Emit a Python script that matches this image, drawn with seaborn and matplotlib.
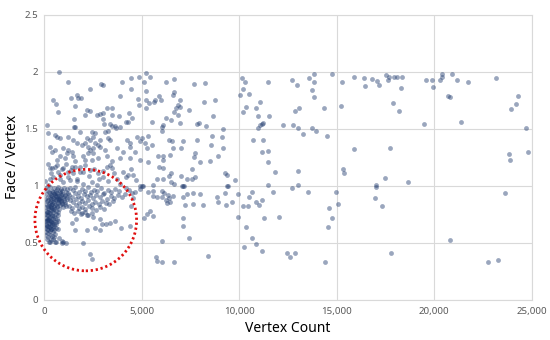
"""
Face / Vertex ratio against vertex count, scatter with highlighted cluster.
"""

import numpy as np
import pandas as pd
import seaborn as sns
from matplotlib import pyplot as plt
from matplotlib.patches import Ellipse
from matplotlib.ticker import FuncFormatter, MultipleLocator

# --- data (vertex count, face / vertex) ---

# above 1.5, left of 5,000
upper_left = [
    (770, 2.0), (1245, 1.91), (2920, 1.89), (3000, 1.885), (2360, 1.85), (3980, 1.915),
    (4460, 1.95), (4870, 1.96), (4460, 1.85), (1670, 1.80), (1380, 1.77), (1760, 1.775),
    (1900, 1.77), (480, 1.75), (615, 1.72), (3890, 1.79), (4800, 1.76), (4870, 1.71),
    (1590, 1.70), (735, 1.65), (2190, 1.67), (2360, 1.66), (3210, 1.68), (3470, 1.68),
    (2100, 1.62), (2700, 1.62), (2870, 1.63), (3040, 1.64), (3470, 1.62), (3860, 1.615),
    (4370, 1.64), (1540, 1.59), (3040, 1.59), (4490, 1.60), (4200, 1.56), (4320, 1.565),
    (3090, 1.54), (3380, 1.545), (3640, 1.53), (3890, 1.52), (140, 1.535), (1550, 1.52),
]

# 1.0 - 1.5, left of 5,000
mid_left = [
    (1590, 1.52), (3470, 1.525), (3690, 1.505), (2440, 1.475), (2610, 1.46), (3120, 1.475),
    (3300, 1.48), (1840, 1.475), (220, 1.46), (560, 1.45), (650, 1.43), (820, 1.42),
    (1245, 1.43), (2190, 1.42), (2360, 1.40), (2530, 1.425), (2100, 1.375), (1500, 1.40),
    (1670, 1.375), (1930, 1.36), (2610, 1.375), (2780, 1.36), (2870, 1.40), (3300, 1.42),
    (3380, 1.40), (4240, 1.40), (4410, 1.375), (4750, 1.43), (4920, 1.39), (5000, 1.42),
    (310, 1.345), (560, 1.315), (390, 1.30), (990, 1.33), (1245, 1.315), (1160, 1.285),
    (1420, 1.30), (2270, 1.345), (2360, 1.315), (2530, 1.33), (2270, 1.285), (2530, 1.285),
    (2870, 1.345), (3120, 1.315), (3720, 1.33), (4060, 1.30), (4410, 1.345), (4660, 1.30),
    (820, 1.26), (1080, 1.245), (650, 1.23), (1500, 1.26), (1590, 1.215), (2010, 1.26),
    (2100, 1.23), (2440, 1.23), (2780, 1.245), (3210, 1.26), (3470, 1.215), (3890, 1.245),
    (4410, 1.245), (4920, 1.23), (310, 1.155), (560, 1.17), (735, 1.125), (990, 1.155),
    (1245, 1.125), (1420, 1.17), (1840, 1.17), (2010, 1.125), (2360, 1.14), (3210, 1.17),
    (3380, 1.185), (3470, 1.155), (4060, 1.125), (4320, 1.095), (4580, 1.095), (2780, 1.11),
    (3040, 1.08), (3720, 1.065), (480, 1.08), (820, 1.065), (1330, 1.05), (1670, 1.065),
    (50, 1.04), (220, 1.01), (180, 1.19), (420, 1.16), (650, 1.18), (900, 1.15),
    (1150, 1.19), (1380, 1.14), (1600, 1.17), (1850, 1.12), (2100, 1.18), (2300, 1.09),
    (2550, 1.15), (2800, 1.06), (3000, 1.13), (350, 1.11), (800, 1.10), (1250, 1.08),
    (1700, 1.04), (2000, 1.02), (2450, 1.03), (2700, 1.01), (300, 1.06), (950, 1.03),
    (1500, 1.11), (3300, 1.04), (3600, 1.11), (3900, 1.02), (4200, 1.08), (4450, 1.15),
    (4700, 1.05),
]

# dense block just under 1.0
dense_top = [
    (75, 0.985), (160, 0.962), (245, 0.948), (318, 0.991), (402, 0.957), (488, 0.978),
    (553, 0.941), (641, 0.969), (712, 0.992), (795, 0.953), (868, 0.976), (944, 0.958),
    (1027, 0.983), (1105, 0.947), (1192, 0.971), (118, 0.928), (207, 0.905), (283, 0.936),
    (366, 0.917), (437, 0.893), (529, 0.925), (602, 0.908), (677, 0.939), (754, 0.914),
    (839, 0.897), (918, 0.931), (1006, 0.909), (1076, 0.922), (1163, 0.901), (1238, 0.934),
    (62, 0.884), (144, 0.866), (226, 0.879), (297, 0.855), (383, 0.887), (462, 0.862),
    (537, 0.848), (619, 0.874), (703, 0.859), (782, 0.882), (857, 0.868), (936, 0.851),
    (1019, 0.877), (1097, 0.857), (1178, 0.885), (104, 0.838), (186, 0.826), (262, 0.845),
    (344, 0.829), (421, 0.841), (503, 0.818), (584, 0.836), (662, 0.823), (741, 0.847),
    (823, 0.831), (905, 0.842), (981, 0.819), (1058, 0.838), (1143, 0.826), (563, 0.918),
    (636, 0.883), (724, 0.897), (812, 0.936), (893, 0.879), (455, 0.946), (372, 0.871),
    (992, 0.894), (607, 0.958), (768, 0.872), (505, 0.889), (684, 0.914), (858, 0.921),
    (425, 0.915), (330, 0.905),
]

# dense column near the y axis, 0.5 - 0.83
dense_low = [
    (70, 0.815), (180, 0.802), (290, 0.821), (410, 0.808), (530, 0.796), (650, 0.812),
    (760, 0.799), (110, 0.782), (230, 0.774), (350, 0.789), (470, 0.768), (590, 0.781),
    (700, 0.772), (60, 0.755), (170, 0.741), (280, 0.760), (390, 0.748), (510, 0.737),
    (620, 0.752), (740, 0.744), (100, 0.722), (210, 0.714), (320, 0.729), (440, 0.709),
    (560, 0.721), (670, 0.712), (55, 0.694), (150, 0.688), (260, 0.701), (370, 0.683),
    (480, 0.696), (590, 0.679), (720, 0.690), (95, 0.665), (200, 0.652), (310, 0.668),
    (420, 0.657), (530, 0.645), (640, 0.662), (60, 0.632), (165, 0.621), (270, 0.638),
    (380, 0.626), (490, 0.614), (600, 0.630), (710, 0.619), (110, 0.597), (220, 0.588),
    (330, 0.603), (440, 0.592), (560, 0.581), (70, 0.568), (180, 0.556), (290, 0.572),
    (400, 0.561), (520, 0.549), (190, 0.705), (340, 0.692), (250, 0.675), (410, 0.672),
    (170, 0.648), (300, 0.641), (460, 0.628), (230, 0.612), (360, 0.618), (520, 0.665),
    (140, 0.702), (280, 0.718), (400, 0.735), (220, 0.742), (330, 0.758), (150, 0.772),
    (440, 0.785), (250, 0.798), (350, 0.812), (120, 0.655), (130, 0.535), (380, 0.522),
    (620, 0.508), (900, 0.515), (1150, 0.498), (280, 0.505), (750, 0.545), (480, 0.530),
    (310, 0.51), (560, 0.505), (905, 0.50), (990, 0.51),
]

# looser band 1,250 - 4,700 under 1.0
band = [
    (1320, 0.985), (1480, 0.962), (1610, 0.991), (1770, 0.948), (1930, 0.975), (2080, 0.957),
    (2240, 0.989), (2390, 0.944), (2560, 0.968), (2730, 0.952), (2910, 0.981), (3080, 0.939),
    (3260, 0.966), (3450, 0.948), (3640, 0.972), (3850, 0.955), (1290, 0.924), (1440, 0.905),
    (1570, 0.937), (1720, 0.913), (1880, 0.896), (2030, 0.928), (2190, 0.909), (2350, 0.921),
    (2520, 0.892), (2690, 0.917), (2870, 0.903), (3040, 0.929), (3230, 0.887), (3420, 0.911),
    (3600, 0.896), (3810, 0.921), (4010, 0.905), (1350, 0.872), (1500, 0.858), (1650, 0.881),
    (1800, 0.849), (1960, 0.867), (2120, 0.853), (2280, 0.876), (2450, 0.845), (2620, 0.862),
    (2800, 0.838), (2980, 0.871), (3160, 0.851), (3350, 0.842), (3560, 0.866), (1300, 0.822),
    (1460, 0.809), (1620, 0.831), (1790, 0.802), (1950, 0.818), (2120, 0.795), (2300, 0.826),
    (2480, 0.807), (2660, 0.791), (2850, 0.812), (3050, 0.799), (1380, 0.776), (1560, 0.762),
    (1740, 0.781), (1910, 0.754), (2090, 0.771), (2270, 0.748), (2460, 0.765), (4200, 0.985),
    (4350, 0.962), (4520, 0.94), (4150, 0.93), (4580, 0.89), (4440, 0.82), (4660, 0.95),
    (2010, 0.50), (2360, 0.40), (2470, 0.36), (2610, 0.635), (2870, 0.61), (2190, 0.61),
    (3180, 0.665), (3380, 0.675), (3640, 0.695), (3930, 0.635), (4410, 0.645), (1590, 0.61),
    (1420, 0.675), (1640, 0.71), (2530, 0.73), (2870, 0.71), (1930, 0.76), (2220, 0.745),
    (2950, 0.67),
]

# 5,000 - 10,000
mid_range = [
    (5210, 1.99), (5450, 1.96), (5140, 1.91), (6230, 1.91), (6660, 1.94), (7700, 1.89),
    (8250, 1.90), (5210, 1.83), (5910, 1.79), (6640, 1.82), (6590, 1.80), (5230, 1.75),
    (5400, 1.73), (5620, 1.74), (5690, 1.75), (6010, 1.755), (6970, 1.755), (5210, 1.68),
    (6880, 1.71), (6750, 1.68), (6970, 1.69), (7430, 1.67), (8210, 1.74), (8760, 1.755),
    (6640, 1.645), (6850, 1.62), (6230, 1.60), (6490, 1.58), (5520, 1.565), (8640, 1.61),
    (7820, 1.54), (7960, 1.555), (6970, 1.555), (6030, 1.52), (6110, 1.535), (8280, 1.525),
    (9150, 1.50), (6030, 1.48), (5170, 1.375), (5290, 1.335), (5520, 1.355), (5350, 1.435),
    (6420, 1.40), (6540, 1.39), (6590, 1.33), (7140, 1.395), (7020, 1.33), (7820, 1.40),
    (8590, 1.44), (9120, 1.425), (9150, 1.335), (8930, 1.26), (8540, 1.36), (8500, 1.22),
    (7740, 1.285), (7700, 1.25), (7990, 1.21), (5820, 1.26), (6080, 1.26), (6450, 1.27),
    (5310, 1.21), (5910, 1.17), (6110, 1.16), (6110, 1.23), (6490, 1.11), (6420, 1.09),
    (7020, 1.09), (7560, 1.145), (7340, 1.06), (7560, 1.065), (7740, 1.08), (5770, 1.06),
    (6110, 1.065), (6680, 1.015), (6510, 1.03), (5600, 1.01), (5090, 1.0), (4920, 0.995),
    (7050, 0.995), (7190, 1.0), (9270, 1.115), (9360, 1.095), (9780, 1.05), (9440, 1.0),
    (5000, 0.995), (4920, 0.975), (5350, 0.95), (5600, 0.955), (5570, 0.91), (5770, 0.90),
    (6060, 0.955), (6150, 0.935), (6030, 0.905), (6370, 0.92), (6420, 0.89), (6250, 0.875),
    (6280, 0.85), (6450, 0.855), (6620, 0.915), (7140, 0.995), (7140, 0.90), (7310, 0.93),
    (7620, 0.935), (7220, 0.835), (7650, 0.84), (7990, 0.93), (8160, 0.83), (8880, 0.90),
    (8900, 0.86), (9270, 0.935), (9390, 0.995), (9320, 0.835), (9610, 0.86), (9920, 0.925),
    (9950, 0.725), (5430, 0.78), (5290, 0.75), (5120, 0.72), (5570, 0.735), (7140, 0.72),
    (7100, 0.65), (7430, 0.545), (6060, 0.52), (8380, 0.385), (5740, 0.38), (5800, 0.34),
    (6030, 0.33), (6680, 0.335),
]

# 10,000 - 15,000
far_mid = [
    (10130, 1.95), (10300, 1.915), (10040, 1.80), (10210, 1.85), (10520, 1.81), (11490, 1.91),
    (10350, 1.69), (10180, 1.65), (10860, 1.68), (10950, 1.61), (11070, 1.74), (11540, 1.61),
    (10950, 1.51), (11070, 1.535), (11240, 1.55), (12690, 1.93), (12980, 1.885), (13580, 1.945),
    (13830, 1.98), (13830, 1.91), (13750, 1.84), (13850, 1.78), (14750, 1.98), (12860, 1.66),
    (13080, 1.68), (14360, 1.68), (11150, 1.545), (12260, 1.535), (12740, 1.535), (13030, 1.51),
    (13290, 1.455), (13750, 1.51), (13930, 1.48), (14510, 1.44), (10690, 1.40), (11240, 1.40),
    (11150, 1.295), (11490, 1.31), (11490, 1.21), (11830, 1.12), (13030, 1.135), (11490, 1.01),
    (11750, 0.95), (12720, 0.98), (13030, 1.01), (13540, 0.945), (14940, 0.945), (15050, 0.845),
    (10640, 0.95), (10520, 0.905), (10210, 0.82), (10470, 0.825), (10840, 0.86), (11010, 0.835),
    (11180, 0.88), (11270, 0.715), (12050, 0.725), (10330, 0.64), (10640, 0.54), (10860, 0.49),
    (10260, 0.46), (11150, 0.43), (12430, 0.415), (12600, 0.375), (12860, 0.415), (14400, 0.335),
    (14600, 0.805), (14740, 0.715), (14530, 0.64),
]

# beyond 15,000
right_side = [
    (15300, 1.145), (15370, 1.115), (17000, 1.01), (17000, 0.99), (17470, 1.07), (18660, 1.03),
    (16970, 0.89), (17300, 0.825), (17760, 0.415), (20800, 0.525), (22760, 0.33), (23270, 0.35),
    (23620, 0.94), (23870, 1.23), (15280, 1.915), (15220, 1.70), (15880, 1.955), (16390, 1.95),
    (16440, 1.88), (16820, 1.94), (17040, 1.92), (17160, 1.885), (17550, 1.97), (17670, 1.96),
    (17930, 1.955), (18070, 1.96), (18350, 1.96), (17640, 1.93), (18290, 1.855), (17900, 1.725),
    (18200, 1.66), (19600, 1.93), (19860, 1.925), (20290, 1.925), (20370, 1.98), (20420, 1.96),
    (20900, 1.98), (21180, 1.93), (21740, 1.91), (19950, 1.865), (20710, 1.79), (20800, 1.78),
    (23170, 1.945), (19480, 1.545), (21350, 1.565), (23920, 1.675), (24180, 1.72), (24300, 1.785),
    (24690, 1.51), (15880, 1.32), (17730, 1.335), (23820, 1.28), (24780, 1.30),
]

groups = [upper_left, mid_left, dense_top, dense_low, band, mid_range, far_mid, right_side]
points = [p for g in groups for p in g]
df = pd.DataFrame(points, columns=["Vertex Count", "Face / Vertex"])

# --- plot ---
sns.set_theme(style="whitegrid")
plt.rcParams["font.family"] = ["Noto Sans", "DejaVu Sans"]

fig, ax = plt.subplots(figsize=(5.5, 3.4), dpi=100)
fig.subplots_adjust(left=0.08, right=0.967, top=0.956, bottom=0.118)

sns.scatterplot(
    data=df,
    x="Vertex Count",
    y="Face / Vertex",
    color="#1f3a6e",
    alpha=0.45,
    s=12,
    linewidth=0,
    ax=ax,
)

ax.set_xlim(0, 25000)
ax.set_ylim(0, 2.5)
ax.xaxis.set_major_locator(MultipleLocator(5000))
ax.yaxis.set_major_locator(MultipleLocator(0.5))
ax.xaxis.set_major_formatter(FuncFormatter(lambda v, _: f"{v:,.0f}"))
ax.yaxis.set_major_formatter(FuncFormatter(lambda v, _: f"{v:g}"))
ax.tick_params(axis="x", length=0, labelsize=7, labelcolor="#595959", pad=5)
ax.tick_params(axis="y", length=0, labelsize=7, labelcolor="#595959", pad=4)

ax.grid(True, color="#d9d9d9", linewidth=0.8)
for spine in ax.spines.values():
    spine.set_color("#d9d9d9")
    spine.set_linewidth(0.8)

ax.set_xlabel("Vertex Count", fontsize=10, color="black", labelpad=4)
ax.set_ylabel("Face / Vertex", fontsize=10, color="black", labelpad=3)

# red dotted circle around the dense cluster
ring = Ellipse((2140, 0.70), width=5210, height=0.89, fill=False,
               edgecolor="#e01010", linewidth=2, linestyle=(0, (0.8, 1.0)),
               clip_on=False, zorder=5)
ax.add_patch(ring)

plt.savefig("out.png", dpi=100)
